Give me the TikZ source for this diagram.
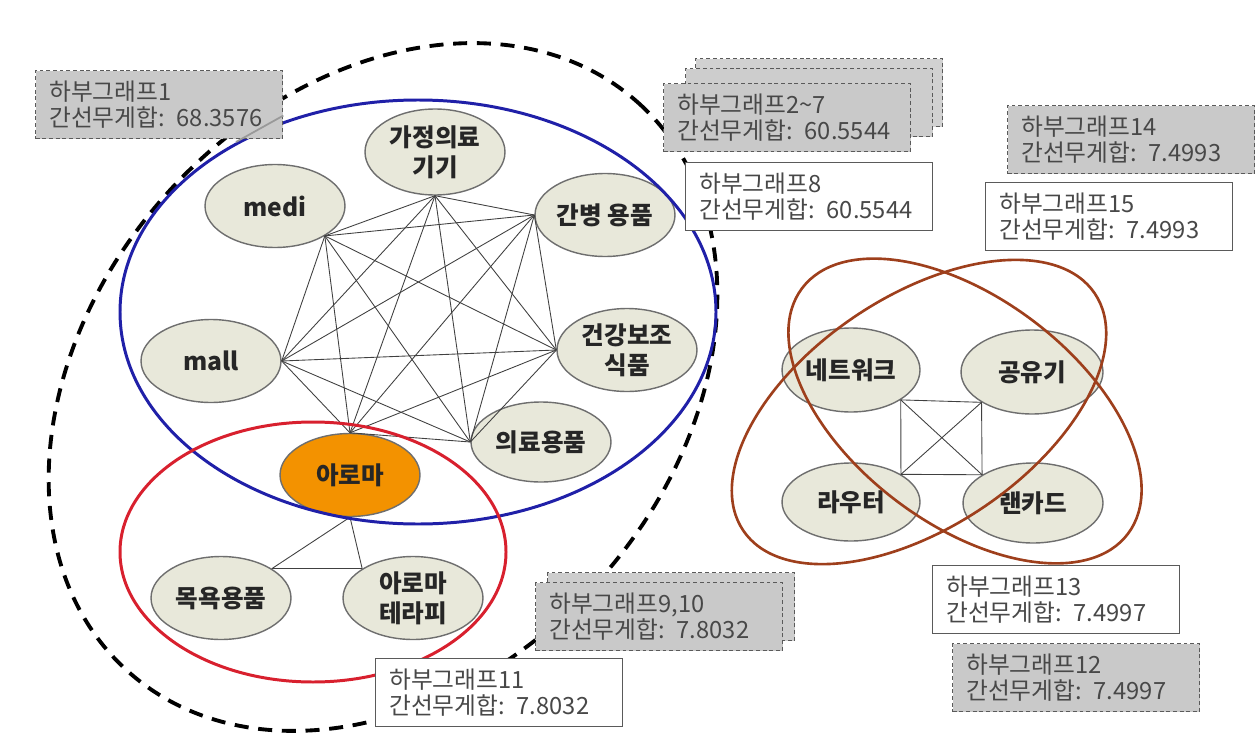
\documentclass[tikz,border=0pt]{standalone}
\usepackage{fontspec}
\setmainfont{Noto Sans CJK KR}
\usetikzlibrary{shapes.geometric}
\definecolor{nodefill}{HTML}{E8E8DA}
\definecolor{nodeline}{HTML}{6E6E6E}
\definecolor{aromafill}{HTML}{F39200}
\definecolor{setblue}{HTML}{2020A8}
\definecolor{setred}{HTML}{D8202E}
\definecolor{setbrown}{HTML}{9E3F1C}
\definecolor{boxfill}{HTML}{C9C9C9}
\definecolor{boxline}{HTML}{5A5A5A}
\definecolor{boxtext}{HTML}{484848}
\newcommand{\subg}[2]{하부그래프#1\\간선무게합: #2}

\begin{document}
\begin{tikzpicture}[x=0.02cm,y=-0.02cm,
	item/.style={ellipse,draw=nodeline,fill=nodefill,line width=0.8pt,minimum width=2.8cm,minimum height=1.66cm,inner sep=0pt,align=center,text=black!85,font=\fontsize{14}{17}\selectfont\bfseries},
	link/.style={draw=black!75,line width=0.5pt},
	outerset/.style={draw=black,line width=2.2pt,dash pattern=on 8pt off 5.5pt},
	blueset/.style={draw=setblue,line width=1.7pt},
	redset/.style={draw=setred,line width=1.7pt},
	brownset/.style={draw=setbrown,line width=1.5pt},
	infobox/.style={anchor=north west,draw=boxline,line width=0.8pt,minimum height=1.36cm,text width=4.4cm,inner xsep=0.27cm,inner ysep=0pt,align=left,text=boxtext,font=\fontsize{13.5}{15}\selectfont},
	dashbox/.style={infobox,fill=boxfill,dash pattern=on 2.2pt off 1.6pt},
	plainbox/.style={infobox,fill=white}]
	\useasboundingbox (0,0) rectangle (1257,750);

	% left graph
	\node[item,minimum height=1.72cm] (gajeong) at (435,152) {가정의료\\기기};
	\node[item] (medi) at (275,206) {medi};
	\node[item] (ganbyeong) at (605,215) {간병 용품};
	\node[item] (mall) at (211,361) {mall};
	\node[item] (geongang) at (627,350) {건강보조\\식품};
	\node[item,minimum height=1.6cm] (uiryo) at (541,442) {의료용품};
	\node[item,fill=aromafill] (aroma) at (350,475) {아로마};
	\node[item] (mokyok) at (221,598) {목욕용품};
	\node[item] (therapy) at (413,598) {아로마\\테라피};

	\path[link] (gajeong.south) edge (medi.-31) edge (ganbyeong.west) edge (mall.east)
			edge (geongang.west) edge (uiryo.west) edge (aroma.north)
		(medi.-31) edge (ganbyeong.west) edge (mall.east) edge (geongang.west)
			edge (uiryo.west) edge (aroma.north)
		(ganbyeong.west) edge (mall.east) edge (geongang.west) edge (uiryo.west) edge (aroma.north)
		(mall.east) edge (geongang.west) edge (uiryo.west) edge (aroma.north)
		(geongang.west) edge (uiryo.west) edge (aroma.north)
		(uiryo.west) edge (aroma.north)
		(aroma.south) edge (mokyok.30) edge (therapy.150)
		(mokyok.30) edge (therapy.150);

	% right graph
	\node[item,minimum width=2.76cm,minimum height=1.68cm] (net) at (851,370) {네트워크};
	\node[item,minimum width=2.84cm,minimum height=1.68cm] (gongyu) at (1032,372) {공유기};
	\node[item,minimum width=2.76cm,minimum height=1.56cm] (router) at (851,502) {라우터};
	\node[item,minimum height=1.6cm] (lancard) at (1033,503) {랜카드};

	\path[link] (net.-31) edge (gongyu.-149) edge (router.29) edge (lancard.151)
		(gongyu.-149) edge (router.29) edge (lancard.151)
		(router.29) edge (lancard.151);

	% subgraph outlines
	\draw[outerset,rotate around={48:(383,387)}] (383,387) ellipse [x radius=382,y radius=290];
	\draw[blueset] (418,312) ellipse [x radius=298,y radius=212];
	\draw[redset] (313,552) ellipse [x radius=193,y radius=130];
	\draw[brownset,rotate around={34:(919,412)}] (919,412) ellipse [x radius=212,y radius=115];
	\draw[brownset,rotate around={-37:(965,411)}] (965,411) ellipse [x radius=204,y radius=113];

	% labels
	\node[dashbox] (box1) at (35,70) {\subg{1}{68.3576}};
	\coordinate (ptr) at (236,142);
	\draw[draw=gray!80,line width=1pt] (box1.-5) -- (ptr);
	\node[dashbox,fill=boxfill!85] (box27c) at (695,58) {};
	\node[dashbox,fill=boxfill!92] (box27b) at (685,68) {};
	\node[dashbox] (box27) at (663,83) {\subg{2\char`~7}{60.5544}};
	\node[plainbox] (box8) at (685,162) {\subg{8}{60.5544}};
	\node[dashbox] (box14) at (1007,105) {\subg{14}{7.4993}};
	\node[plainbox] (box15) at (985,182) {\subg{15}{7.4993}};
	\node[dashbox,fill=boxfill!92] (box910b) at (547,572) {};
	\node[dashbox] (box910) at (535,582) {\subg{9,10}{7.8032}};
	\node[plainbox] (box11) at (375,658) {\subg{11}{7.8032}};
	\node[plainbox] (box13) at (932,565) {\subg{13}{7.4997}};
	\node[dashbox] (box12) at (952,643) {\subg{12}{7.4997}};
\end{tikzpicture}
\end{document}
